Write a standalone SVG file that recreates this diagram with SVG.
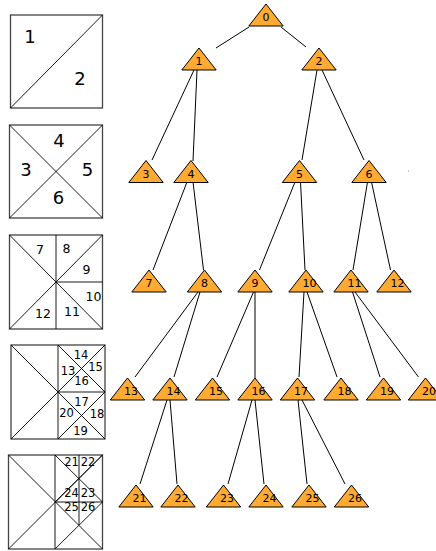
<svg xmlns="http://www.w3.org/2000/svg" width="436" height="551" viewBox="0 0 436 551">
<defs>
<style>
.box{fill:#fff;stroke:#444;stroke-width:1.3}
.ln{stroke:#000;stroke-width:0.9;fill:none}
.bl{font-family:"DejaVu Sans",sans-serif;fill:#000}
.big{font-size:18px}
.mid{font-size:12.5px}
.sm{font-size:11.5px}
.tri{fill:#ffaa33;stroke:#000;stroke-width:1}
.tl{font-family:"DejaVu Sans",sans-serif;font-size:11px;fill:#000}
.edge{stroke:#000;stroke-width:1;fill:none}
</style>
<path id="t" d="M0,0 L17.2,22 L-17.2,22 Z"/>
</defs>
<rect width="436" height="551" fill="#fff"/>

<g id="box1">
<rect class="box" x="10.5" y="15" width="92" height="93"/>
<line class="ln" x1="10.5" y1="108" x2="102.5" y2="15"/>
<text class="bl big" x="30" y="43" text-anchor="middle">1</text>
<text class="bl big" x="80" y="85" text-anchor="middle">2</text>
</g>

<g id="box2">
<rect class="box" x="9.5" y="125" width="93" height="93"/>
<line class="ln" x1="9.5" y1="125" x2="102.5" y2="218"/>
<line class="ln" x1="9.5" y1="218" x2="102.5" y2="125"/>
<text class="bl big" x="59" y="147" text-anchor="middle">4</text>
<text class="bl big" x="26" y="176" text-anchor="middle">3</text>
<text class="bl big" x="87.5" y="176" text-anchor="middle">5</text>
<text class="bl big" x="58.5" y="204" text-anchor="middle">6</text>
</g>

<g id="box3">
<rect class="box" x="9.5" y="235" width="93" height="94"/>
<line class="ln" x1="9.5" y1="235" x2="102.5" y2="329"/>
<line class="ln" x1="9.5" y1="329" x2="102.5" y2="235"/>
<line class="ln" x1="56" y1="235" x2="56" y2="329"/>
<line class="ln" x1="56" y1="282" x2="102.5" y2="282"/>
<text class="bl mid" x="40" y="254" text-anchor="middle">7</text>
<text class="bl mid" x="66.5" y="252.5" text-anchor="middle">8</text>
<text class="bl mid" x="86.5" y="273.5" text-anchor="middle">9</text>
<text class="bl mid" x="93.5" y="301" text-anchor="middle">10</text>
<text class="bl mid" x="72" y="316" text-anchor="middle">11</text>
<text class="bl mid" x="43" y="317.5" text-anchor="middle">12</text>
</g>

<g id="box4">
<rect class="box" x="11" y="345" width="94" height="94"/>
<line class="ln" x1="11" y1="345" x2="105" y2="439"/>
<line class="ln" x1="11" y1="439" x2="105" y2="345"/>
<line class="ln" x1="58" y1="345" x2="58" y2="439"/>
<line class="ln" x1="58" y1="392" x2="105" y2="392"/>
<line class="ln" x1="58" y1="345" x2="105" y2="392"/>
<line class="ln" x1="58" y1="439" x2="105" y2="392"/>
<text class="bl sm" x="81" y="359" text-anchor="middle">14</text>
<text class="bl sm" x="95.5" y="371" text-anchor="middle">15</text>
<text class="bl sm" x="68" y="374.5" text-anchor="middle">13</text>
<text class="bl sm" x="81.5" y="384.5" text-anchor="middle">16</text>
<text class="bl sm" x="81.5" y="406" text-anchor="middle">17</text>
<text class="bl sm" x="97" y="417.5" text-anchor="middle">18</text>
<text class="bl sm" x="66.5" y="416.5" text-anchor="middle">20</text>
<text class="bl sm" x="80.5" y="434.5" text-anchor="middle">19</text>
</g>

<g id="box5">
<rect class="box" x="8.5" y="455" width="94" height="94"/>
<line class="ln" x1="8.5" y1="455" x2="102.5" y2="549"/>
<line class="ln" x1="8.5" y1="549" x2="102.5" y2="455"/>
<line class="ln" x1="55" y1="455" x2="55" y2="549"/>
<line class="ln" x1="55" y1="502" x2="103" y2="502"/>
<line class="ln" x1="55" y1="455" x2="102.5" y2="502"/>
<line class="ln" x1="55" y1="502" x2="102.5" y2="455"/>
<line class="ln" x1="55" y1="549" x2="102.5" y2="502"/>
<line class="ln" x1="79" y1="455" x2="79" y2="525"/>
<text class="bl sm" x="71.5" y="465.5" text-anchor="middle">21</text>
<text class="bl sm" x="88" y="465.5" text-anchor="middle">22</text>
<text class="bl sm" x="71.5" y="497" text-anchor="middle">24</text>
<text class="bl sm" x="88" y="497" text-anchor="middle">23</text>
<text class="bl sm" x="71.5" y="510.5" text-anchor="middle">25</text>
<text class="bl sm" x="88" y="510.5" text-anchor="middle">26</text>
</g>

<g id="edges">
<line class="edge" x1="249" y1="27" x2="216" y2="48"/>
<line class="edge" x1="281" y1="27" x2="306" y2="47"/>
<line class="edge" x1="194" y1="70" x2="152" y2="160"/>
<line class="edge" x1="197" y1="70" x2="193" y2="161"/>
<line class="edge" x1="317" y1="70" x2="302" y2="160"/>
<line class="edge" x1="322" y1="70" x2="364" y2="160"/>
<line class="edge" x1="187" y1="182" x2="153" y2="270"/>
<line class="edge" x1="193" y1="182" x2="203.5" y2="270"/>
<line class="edge" x1="295" y1="182" x2="259.5" y2="270"/>
<line class="edge" x1="300.5" y1="182" x2="305" y2="270"/>
<line class="edge" x1="367.5" y1="182" x2="353" y2="270"/>
<line class="edge" x1="371.5" y1="182" x2="390.5" y2="270"/>
<line class="edge" x1="198" y1="292" x2="135" y2="377"/>
<line class="edge" x1="200" y1="292" x2="174" y2="377"/>
<line class="edge" x1="253.5" y1="292" x2="217" y2="377"/>
<line class="edge" x1="255" y1="292" x2="255" y2="378"/>
<line class="edge" x1="304" y1="292" x2="299" y2="377"/>
<line class="edge" x1="307" y1="292" x2="337" y2="377"/>
<line class="edge" x1="352.5" y1="292" x2="380" y2="377"/>
<line class="edge" x1="355" y1="292" x2="418.5" y2="377"/>
<line class="edge" x1="167" y1="400" x2="140" y2="484"/>
<line class="edge" x1="170" y1="400" x2="177" y2="484"/>
<line class="edge" x1="252" y1="400" x2="228" y2="484"/>
<line class="edge" x1="255" y1="400" x2="264" y2="484"/>
<line class="edge" x1="298" y1="400" x2="307" y2="484"/>
<line class="edge" x1="302" y1="400" x2="345" y2="484"/>
</g>

<g id="n0"><use href="#t" class="tri" x="266" y="4"/><text class="tl" x="262.5" y="21">0</text></g>
<g id="n1"><use href="#t" class="tri" x="199" y="48"/><text class="tl" x="195.5" y="65">1</text></g>
<g id="n2"><use href="#t" class="tri" x="319" y="48"/><text class="tl" x="315.5" y="65">2</text></g>
<g id="n3"><use href="#t" class="tri" x="146" y="160.5"/><text class="tl" x="142.5" y="177.5">3</text></g>
<g id="n4"><use href="#t" class="tri" x="191" y="160.5"/><text class="tl" x="187.5" y="177.5">4</text></g>
<g id="n5"><use href="#t" class="tri" x="299.5" y="160.5"/><text class="tl" x="296" y="177.5">5</text></g>
<g id="n6"><use href="#t" class="tri" x="369" y="160.5"/><text class="tl" x="365.5" y="177.5">6</text></g>
<g id="n7"><use href="#t" class="tri" x="149" y="270"/><text class="tl" x="145.5" y="287">7</text></g>
<g id="n8"><use href="#t" class="tri" x="204.5" y="270"/><text class="tl" x="201" y="287">8</text></g>
<g id="n9"><use href="#t" class="tri" x="255" y="270"/><text class="tl" x="251.5" y="287">9</text></g>
<g id="n10"><use href="#t" class="tri" x="306" y="270"/><text class="tl" x="302.5" y="287">10</text></g>
<g id="n11"><use href="#t" class="tri" x="351" y="270"/><text class="tl" x="347.5" y="287">11</text></g>
<g id="n12"><use href="#t" class="tri" x="394" y="270"/><text class="tl" x="390.5" y="287">12</text></g>
<g id="n13"><use href="#t" class="tri" x="127.5" y="378"/><text class="tl" x="124" y="395">13</text></g>
<g id="n14"><use href="#t" class="tri" x="170" y="378"/><text class="tl" x="166.5" y="395">14</text></g>
<g id="n15"><use href="#t" class="tri" x="212.5" y="378"/><text class="tl" x="209" y="395">15</text></g>
<g id="n16"><use href="#t" class="tri" x="255" y="378"/><text class="tl" x="251.5" y="395">16</text></g>
<g id="n17"><use href="#t" class="tri" x="297.5" y="378"/><text class="tl" x="294" y="395">17</text></g>
<g id="n18"><use href="#t" class="tri" x="341" y="378"/><text class="tl" x="337.5" y="395">18</text></g>
<g id="n19"><use href="#t" class="tri" x="383.5" y="378"/><text class="tl" x="380" y="395">19</text></g>
<g id="n20"><use href="#t" class="tri" x="425.5" y="378"/><text class="tl" x="422" y="395">20</text></g>
<g id="n21"><use href="#t" class="tri" x="136" y="485"/><text class="tl" x="132.5" y="502">21</text></g>
<g id="n22"><use href="#t" class="tri" x="178" y="485"/><text class="tl" x="174.5" y="502">22</text></g>
<g id="n23"><use href="#t" class="tri" x="223.5" y="485"/><text class="tl" x="220" y="502">23</text></g>
<g id="n24"><use href="#t" class="tri" x="266" y="485"/><text class="tl" x="262.5" y="502">24</text></g>
<g id="n25"><use href="#t" class="tri" x="309" y="485"/><text class="tl" x="305.5" y="502">25</text></g>
<g id="n26"><use href="#t" class="tri" x="351.5" y="485"/><text class="tl" x="348" y="502">26</text></g>

<rect x="408" y="170.5" width="1" height="1" fill="#999"/>
</svg>
